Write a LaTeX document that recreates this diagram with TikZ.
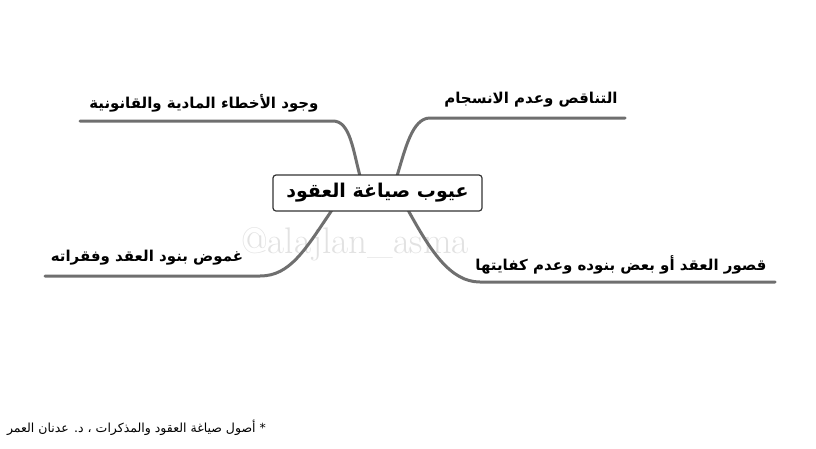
\documentclass[tikz,border=0pt]{standalone}
\usepackage{fontspec}
\TeXXeTstate=1
\newfontfamily\arabicfont[Script=Arabic]{DejaVu Sans}
\definecolor{branchgray}{HTML}{6F6F6F}
\definecolor{wmgray}{HTML}{E2E2E2}
\tikzset{
  branch/.style={draw=branchgray,line width=3pt,line cap=round},
  label/.style={font=\arabicfont\bfseries\fontsize{15}{17}\selectfont,inner sep=0pt,text=black},
  centerbox/.style={draw=black!80,line width=1.2pt,rounded corners=3pt,fill=white,minimum width=209pt,minimum height=36pt,inner sep=0pt,font=\arabicfont\bfseries\fontsize{19}{23}\selectfont}
}
\begin{document}
\begin{tikzpicture}[x=1pt,y=-1pt]
\useasboundingbox (0,0) rectangle (816,448);
\fill[white] (0,0) rectangle (816,448);
% watermark
\node[font=\fontsize{37}{40}\selectfont,text=wmgray,inner sep=0pt] (wm) at (355,244) {@alajlan\_asma};
% branch endpoints
\coordinate (tl0) at (360,176);
\coordinate (tl1) at (333,121);
\coordinate (tl2) at (80,121);
\coordinate (tr0) at (397,176);
\coordinate (tr1) at (430,118);
\coordinate (tr2) at (625,118);
\coordinate (bl0) at (332,210);
\coordinate (bl1) at (260,276);
\coordinate (bl2) at (45,276);
\coordinate (br0) at (408,210);
\coordinate (br1) at (480,282);
\coordinate (br2) at (775,282);
\draw[branch] (tl2) -- (tl1) .. controls (350,121) and (353,150) .. (tl0);
\draw[branch] (tr0) .. controls (405,150) and (412,118) .. (tr1) -- (tr2);
\draw[branch] (bl0) .. controls (305,250) and (290,276) .. (bl1) -- (bl2);
\draw[branch] (br0) .. controls (430,250) and (450,282) .. (br1) -- (br2);
% central node
\node[centerbox] (c) at (377.5,193) {\beginR عيوب صياغة العقود\endR};
% labels
\node[label] (a) at (204,103) {\beginR وجود الأخطاء المادية والقانونية\endR};
\node[label] (b) at (531,100) {\beginR التناقص وعدم الانسجام\endR};
\node[label] (d) at (147,258) {\beginR غموض بنود العقد وفقراته\endR};
\node[label] (e) at (621,265) {\beginR قصور العقد أو بعض بنوده وعدم كفايتها\endR};
% footnote
\node[font=\arabicfont\fontsize{12.5}{14}\selectfont,inner sep=0pt,anchor=east] (f) at (266,428) {\beginR * أصول صياغة العقود والمذكرات ، د. عدنان العمر\endR};
\end{tikzpicture}
\end{document}
